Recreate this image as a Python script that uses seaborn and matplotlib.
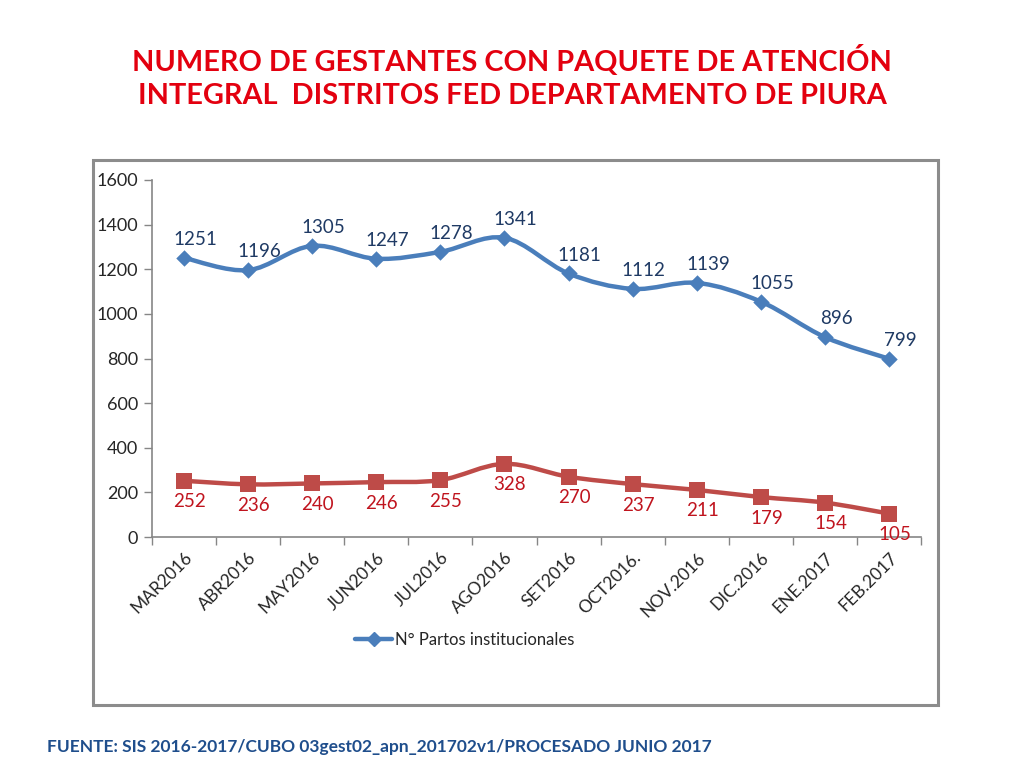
import numpy as np
import pandas as pd
import matplotlib
matplotlib.use("Agg")
import matplotlib.pyplot as plt
import seaborn as sns
from matplotlib.path import Path
from matplotlib.patches import PathPatch, Rectangle
from matplotlib.lines import Line2D

months = ["MAR2016", "ABR2016", "MAY2016", "JUN2016", "JUL2016", "AGO2016",
          "SET2016", "OCT2016.", "NOV.2016", "DIC.2016", "ENE.2017", "FEB.2017"]
partos = [1251, 1196, 1305, 1247, 1278, 1341, 1181, 1112, 1139, 1055, 896, 799]
paquete = [252, 236, 240, 246, 255, 328, 270, 237, 211, 179, 154, 105]
yticks = [0, 200, 400, 600, 800, 1000, 1200, 1400, 1600]

title = "NUMERO DE GESTANTES CON PAQUETE DE ATENCIÓN\nINTEGRAL  DISTRITOS FED DEPARTAMENTO DE PIURA"
footer = "FUENTE: SIS 2016-2017/CUBO 03gest02_apn_201702v1/PROCESADO JUNIO 2017"
legend_label = "N° Partos institucionales"

BLUE = "#4A7EBB"
RED = "#BE4B48"
BLUE_TXT = "#1F3A64"
RED_TXT = "#C0141E"

sns.set_theme(style="white")
plt.rcParams["font.family"] = ["Lato", "DejaVu Sans"]

fig = plt.figure(figsize=(10.24, 7.68), dpi=100)
ax = fig.add_axes([152/1024, 1-537/768, (921-152)/1024, (537-180)/768])

df = pd.DataFrame({"x": np.arange(len(months)), "partos": partos, "paquete": paquete})


def smooth_path(xs, ys):
    pts = np.column_stack([xs, ys]).astype(float)
    n = len(pts)
    verts = [pts[0]]
    codes = [Path.MOVETO]
    for i in range(n - 1):
        p0 = pts[i - 1] if i > 0 else pts[i]
        p1 = pts[i]
        p2 = pts[i + 1]
        p3 = pts[i + 2] if i + 2 < n else pts[i + 1]
        c1 = p1 + (p2 - p0) / 6.0
        c2 = p2 - (p3 - p1) / 6.0
        verts += [c1, c2, p2]
        codes += [Path.CURVE4] * 3
    return Path(verts, codes)


for col, color in [("partos", BLUE), ("paquete", RED)]:
    patch = PathPatch(smooth_path(df["x"], df[col]), fill=False, edgecolor=color,
                      lw=3.2, transform=ax.transData, capstyle="round", joinstyle="round", zorder=2)
    ax.add_patch(patch)

sns.scatterplot(data=df, x="x", y="partos", marker="D", s=70, color=BLUE,
                edgecolor=BLUE, linewidth=0, ax=ax, zorder=3, legend=False)
sns.scatterplot(data=df, x="x", y="paquete", marker="s", s=130, color=RED,
                edgecolor=RED, linewidth=0, ax=ax, zorder=3, legend=False)

for i, v in enumerate(partos):
    ax.annotate(str(v), (i, v), xytext=(8, 7), textcoords="offset points",
                ha="center", va="bottom", fontsize=13.5, color=BLUE_TXT)
for i, v in enumerate(paquete):
    ax.annotate(str(v), (i, v), xytext=(4, -9), textcoords="offset points",
                ha="center", va="top", fontsize=13.5, color=RED_TXT)

ax.set_xlim(-0.5, len(months) - 0.5)
ax.set_ylim(0, 1600)
ax.set_yticks(yticks)
ax.set_yticklabels([str(t) for t in yticks], fontsize=13)
ax.set_xticks(np.arange(len(months)))
ax.set_xticklabels(months, rotation=45, ha="right", rotation_mode="anchor", fontsize=12.5)
ax.set_xticks(np.arange(-0.5, len(months), 1.0), minor=True)
ax.tick_params(axis="x", which="major", length=0, pad=9)
ax.tick_params(axis="x", which="minor", length=6, width=1, color="#868686", direction="out", bottom=True)
ax.tick_params(axis="y", which="major", length=6, width=1, color="#868686", direction="out", left=True, pad=4)
ax.set_xlabel("")
ax.set_ylabel("")
ax.grid(False)
for s in ["top", "right"]:
    ax.spines[s].set_visible(False)
for s in ["left", "bottom"]:
    ax.spines[s].set_color("#868686")
    ax.spines[s].set_linewidth(1.2)

handle = Line2D([0], [0], color=BLUE, lw=3.2, marker="D", markersize=7)
fig.legend(handles=[handle], labels=[legend_label], loc="center",
           bbox_to_anchor=(465/1024, 1-640/768), frameon=False, fontsize=12,
           handlelength=2.2, handletextpad=0.2)

fig.patches.append(Rectangle((93/1024, 1-705/768), (938-93)/1024, (705-160)/768,
                             transform=fig.transFigure, fill=False,
                             edgecolor="#8C8C8C", lw=2.2, zorder=0))

fig.text(0.5, 1-77/768, title, ha="center", va="center", fontsize=20.8,
         fontweight="bold", color="#E3000F", linespacing=1.35)
fig.text(47/1024, 1-747/768, footer, ha="left", va="center", fontsize=12.5,
         fontweight="bold", color="#1F4E8C")

fig.savefig("out.png", dpi=100)
